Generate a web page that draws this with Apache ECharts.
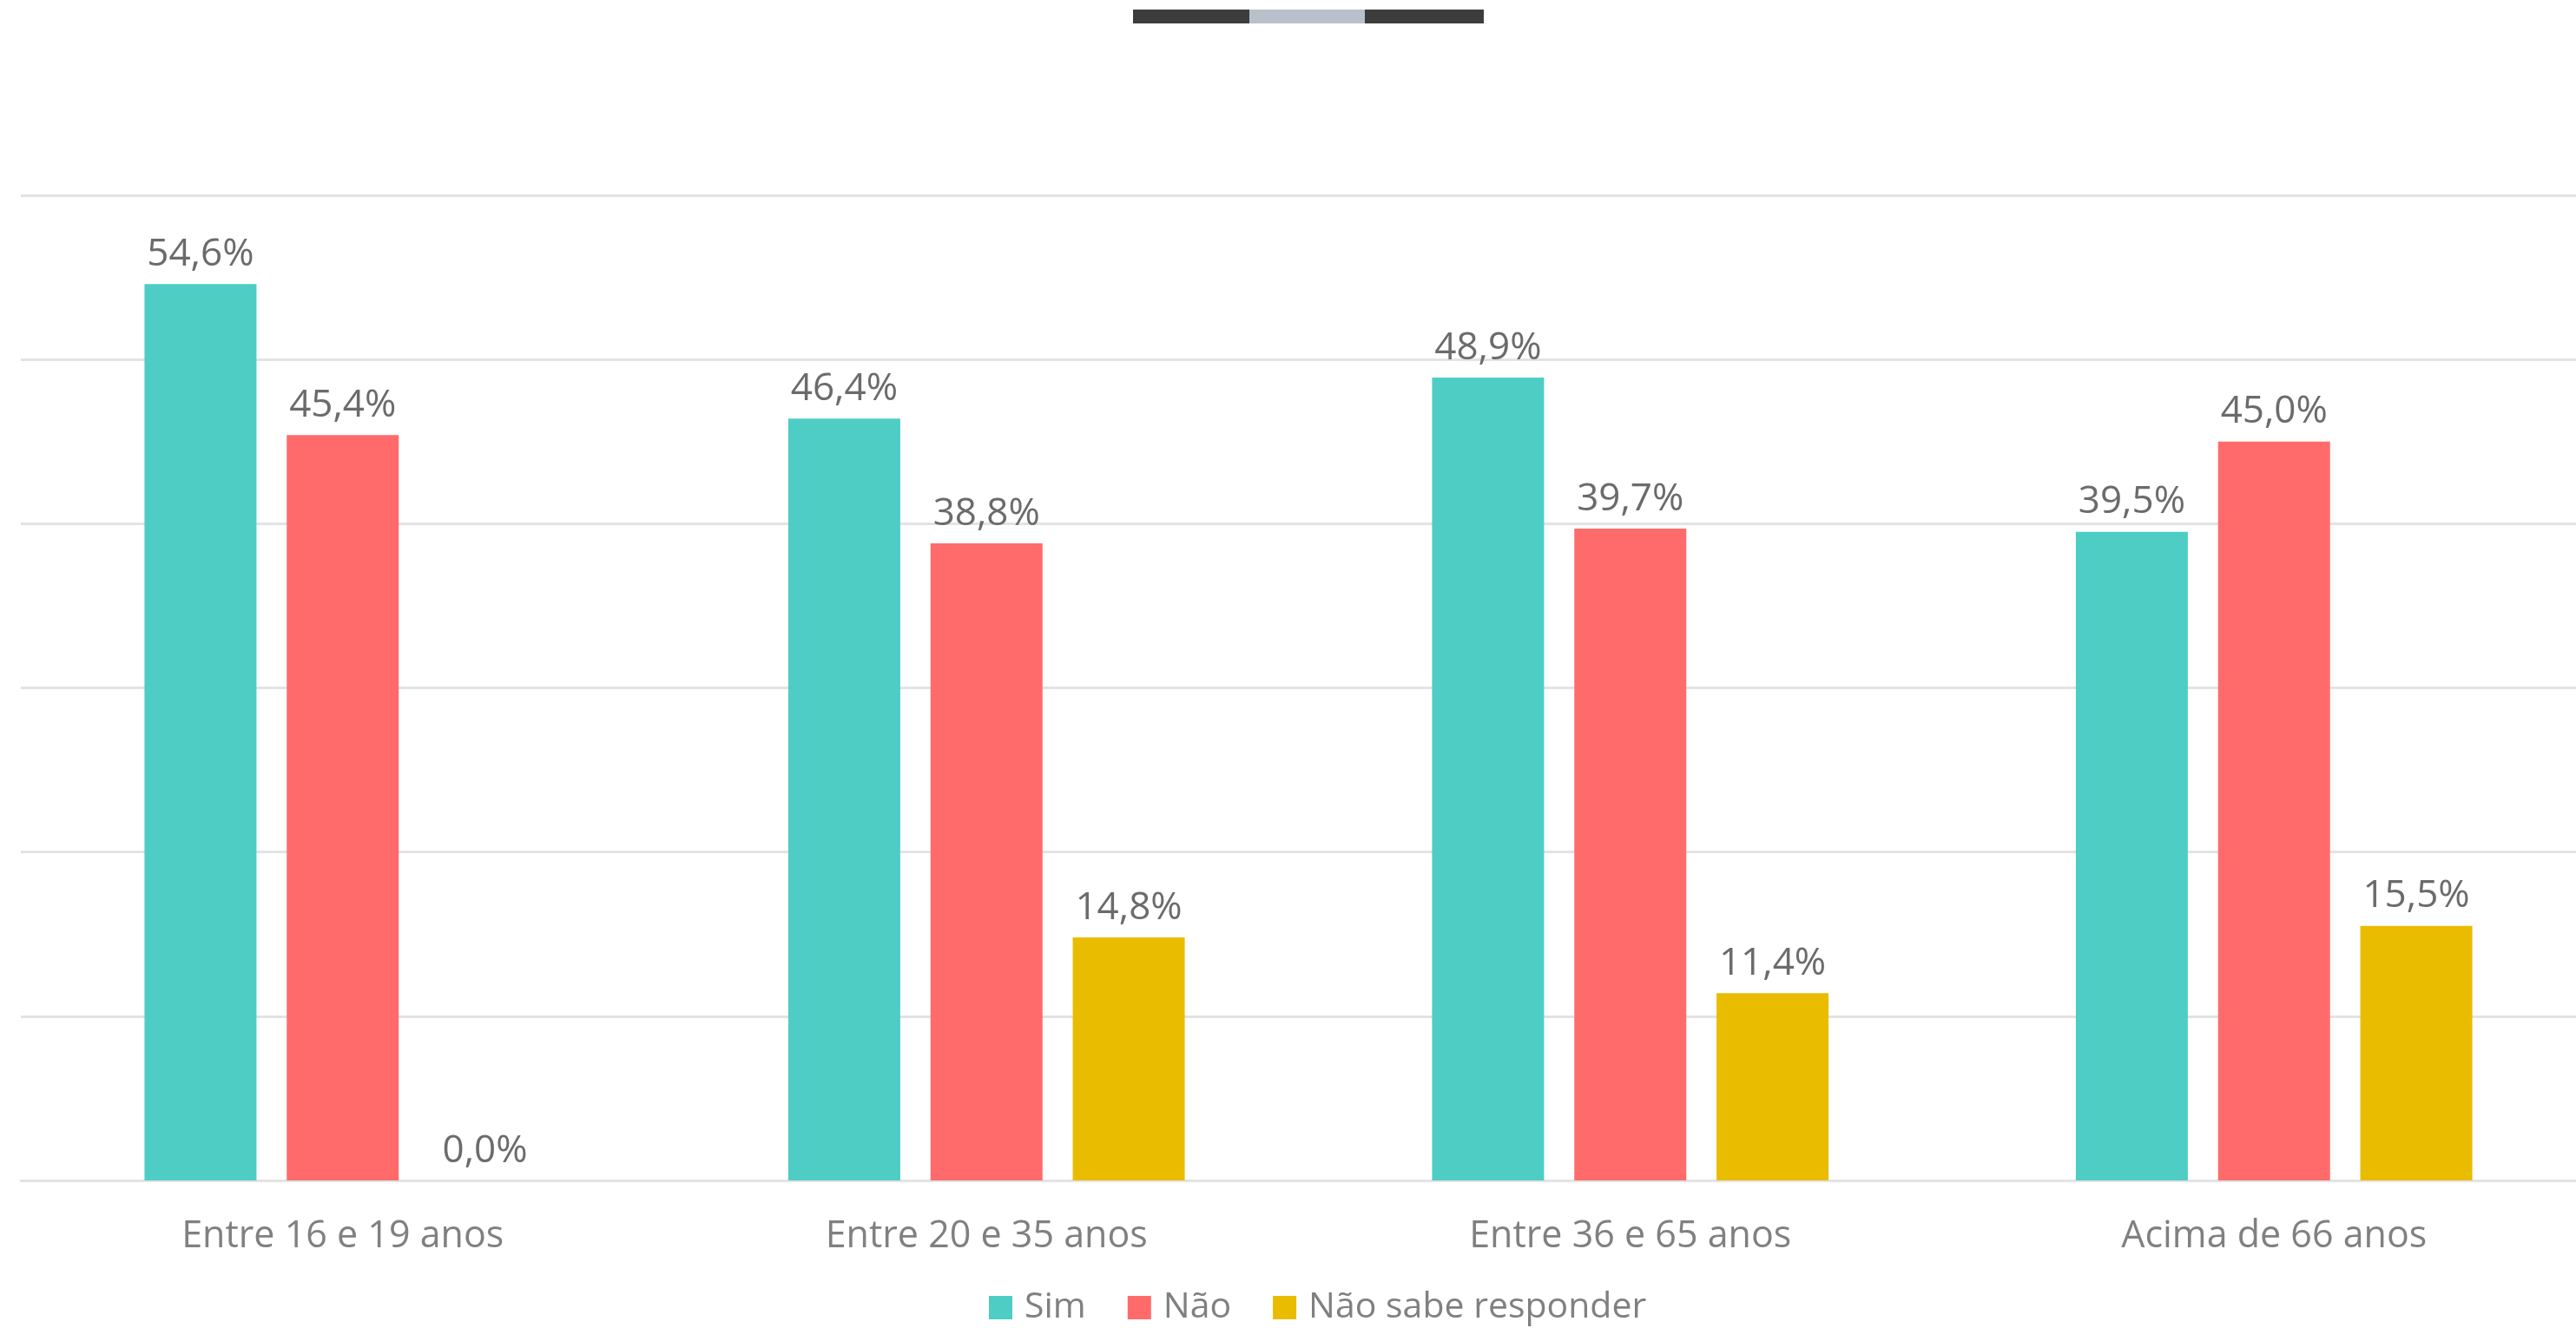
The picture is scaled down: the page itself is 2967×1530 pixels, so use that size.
<!DOCTYPE html>
<html>
<head>
<meta charset="utf-8">
<script src="https://cdn.jsdelivr.net/npm/echarts@6/dist/echarts.min.js"></script>
<style>
html,body{margin:0;padding:0;background:#fff;}
#c{width:2967px;height:1530px;}
</style>
</head>
<body>
<div id="c"></div>
<script>
const categories = ['Entre 16 e 19 anos', 'Entre 20 e 35 anos', 'Entre 36 e 65 anos', 'Acima de 66 anos'];
const seriesNames = ['Sim', 'Não', 'Não sabe responder'];
const simValues = [54.6, 46.4, 48.9, 39.5];
const naoValues = [45.4, 38.8, 39.7, 45.0];
const nsrValues = [0.0, 14.8, 11.4, 15.5];
const yTicks = [0, 10, 20, 30, 40, 50, 60];

const colors = ['#4ECDC4', '#FF6B6B', '#E9BC00'];
const FONT = 'Open Sans';

const chart = echarts.init(document.getElementById('c'), null, {renderer: 'canvas'});

function mkSeries(name, data, color) {
  return {
    name: name,
    type: 'bar',
    data: data,
    barWidth: 129,
    barGap: '27%',
    itemStyle: {color: color},
    label: {
      show: true,
      position: 'top',
      distance: 12,
      color: '#6b6b6b',
      fontFamily: FONT,
      fontSize: 44,
      formatter: p => p.value.toFixed(1).replace('.', ',') + '%'
    }
  };
}

chart.setOption({
  animation: false,
  color: colors,
  grid: {left: 24, right: -23, top: 225, bottom: 170, containLabel: false, outerBoundsMode: 'none'},
  legend: {
    data: seriesNames,
    left: 1134,
    top: 1481,
    itemWidth: 27,
    itemHeight: 27,
    itemGap: 48,
    icon: 'rect',
    textStyle: {color: '#808080', fontFamily: FONT, fontSize: 41, padding: [0, 0, 0, 9]}
  },
  xAxis: {
    type: 'category',
    data: categories,
    axisLine: {lineStyle: {color: '#e3e3e3', width: 3}},
    axisTick: {show: false},
    axisLabel: {color: '#808080', fontFamily: FONT, fontSize: 43, margin: 43}
  },
  yAxis: {
    type: 'value',
    min: yTicks[0],
    max: yTicks[yTicks.length - 1],
    interval: yTicks[1] - yTicks[0],
    axisLabel: {show: false},
    axisLine: {show: false},
    axisTick: {show: false},
    splitLine: {lineStyle: {color: '#e3e3e3', width: 3}}
  },
  graphic: [
    {type: 'rect', shape: {x: 1305, y: 11, width: 134, height: 16}, style: {fill: '#3c3c3c'}},
    {type: 'rect', shape: {x: 1439, y: 11, width: 133, height: 16}, style: {fill: '#b8c0ca'}},
    {type: 'rect', shape: {x: 1572, y: 11, width: 137, height: 16}, style: {fill: '#3c3c3c'}}
  ],
  series: [
    mkSeries(seriesNames[0], simValues, colors[0]),
    mkSeries(seriesNames[1], naoValues, colors[1]),
    mkSeries(seriesNames[2], nsrValues, colors[2])
  ]
});
</script>
</body>
</html>
